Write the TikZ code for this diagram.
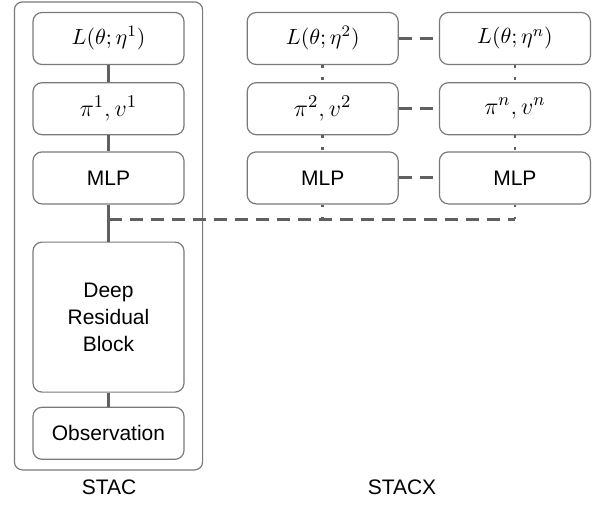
\documentclass[tikz,border=0pt]{standalone}
\usepackage{amsmath, amssymb}
\usepackage{fontspec}
\setmainfont{Liberation Sans}
\usepackage{tikz}
\usepackage{xcolor}
\usetikzlibrary{positioning, fit}

\definecolor{linegray}{HTML}{606060}
\definecolor{boxgray}{HTML}{7A7A7A}

\begin{document}
\begin{tikzpicture}[
  x=0.5pt, y=-0.5pt,
  box/.style = {rectangle, draw=boxgray, line width=0.6pt, rounded corners=4.5pt, minimum width=75.5pt, minimum height=26pt, inner sep=0pt, align=center, font=\fontsize{10.5}{13.5}\selectfont},
  lossbox/.style = {box, font=\fontsize{11}{13}\selectfont},
  polbox/.style = {box, font=\fontsize{12.7}{14}\selectfont},
  frame/.style = {rectangle, draw=boxgray, line width=0.6pt, rounded corners=4pt},
  caption/.style = {font=\fontsize{10.5}{12.6}\selectfont},
  link/.style = {draw=linegray, line width=1.5pt},
  dashlink/.style = {draw=linegray, line width=1.5pt, dash pattern=on 6.5pt off 4pt},
  dotlink/.style = {draw=linegray, line width=1.3pt, dash pattern=on 1.2pt off 4.8pt},
  node distance=8pt and 20pt
  ]
  \useasboundingbox (0,0) rectangle (598,514);

  % Noeuds STAC
  \node[lossbox] (loss1) at (108.5,38.5) {$L(\theta;\eta^1)$};
  \node[polbox, below=8.5pt of loss1] (pol1) {$\pi^1, v^1$};
  \node[box, below=of pol1] (mlp1) {MLP};
  \node[box, below=18.5pt of mlp1, minimum height=75pt] (res) {Deep\\Residual\\Block};
  \node[box, below=7pt of res] (obs) {Observation};
  \node[frame, fit=(loss1)(obs), inner xsep=9pt, inner ysep=5pt] (stac) {};

  % Noeuds STACX
  \node[lossbox, right=31pt of loss1] (loss2) {$L(\theta;\eta^2)$};
  \node[lossbox, right=of loss2] (lossn) {$L(\theta;\eta^n)$};
  \node[polbox, below=8.5pt of loss2] (pol2) {$\pi^2, v^2$};
  \node[polbox, below=8.5pt of lossn] (poln) {$\pi^n, v^n$};
  \node[box, below=of pol2] (mlp2) {MLP};
  \node[box, below=of poln] (mlpn) {MLP};

  % Legendes
  \node[caption] (staclabel) at (109,487) {STAC};
  \node[caption] (stacxlabel) at (402,487) {STACX};

  % Jonctions
  \coordinate[below=7.5pt of mlp1] (split);
  \coordinate (tap2) at (mlp2 |- split);
  \coordinate (tapn) at (mlpn |- split);

  % Liens
  \draw[link] (loss1) -- (pol1);
  \draw[link] (pol1) -- (mlp1);
  \draw[link] (mlp1) -- (res);
  \draw[link] (res) -- (obs);
  \draw[dotlink] (loss2) -- (pol2);
  \draw[dotlink] (pol2) -- (mlp2);
  \draw[dotlink] (mlp2) -- (tap2);
  \draw[dotlink] (lossn) -- (poln);
  \draw[dotlink] (poln) -- (mlpn);
  \draw[dotlink] (mlpn) -- (tapn);
  \draw[dashlink] (loss2) -- (lossn);
  \draw[dashlink] (pol2) -- (poln);
  \draw[dashlink] (mlp2) -- (mlpn);
  \draw[dashlink] (split) -- (tapn);

\end{tikzpicture}
\end{document}
